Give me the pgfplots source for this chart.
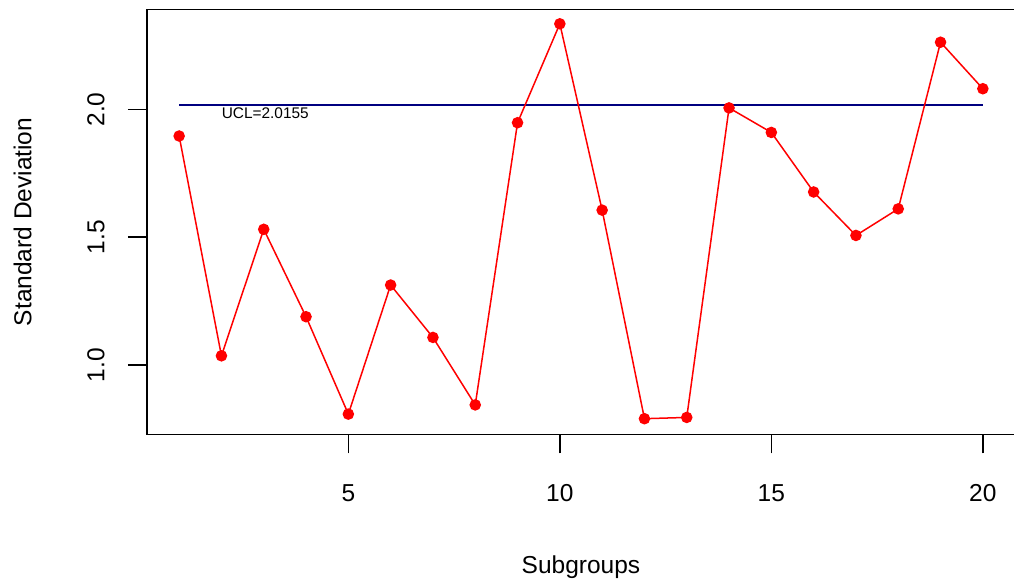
\documentclass[border=0pt]{standalone}
\usepackage{pgfplots}
\pgfplotsset{compat=1.18}
\usepackage{fontspec}
\setmainfont{Liberation Sans}
\definecolor{uclblue}{HTML}{000080}

\begin{document}
\begin{tikzpicture}
\begin{axis}[
  scale only axis,
  width=434pt, height=212.4pt,
  xmin=0.24, xmax=20.76,
  ymin=0.729, ymax=2.391,
  axis line style={black, line width=0.75pt},
  xtick={5,10,15,20}, xticklabels={5,10,15,20},
  ytick={1.0,1.5,2.0}, yticklabels={1.0,1.5,2.0},
  xtick pos=bottom, ytick pos=left,
  tick align=outside,
  major tick length=9.5pt,
  tick style={black, line width=0.75pt},
  /pgf/number format/assume math mode=true,
  font=\fontsize{12.25}{14}\selectfont,
  xticklabel style={anchor=center, yshift=-19.8pt},
  yticklabel style={xshift=-16pt, rotate=90, anchor=center},
  every axis x label/.style={at={(axis description cs:0.5,0)}, yshift=-66.5pt, anchor=center},
  every axis y label/.style={at={(axis description cs:0,0.5)}, xshift=-62.2pt, rotate=90, anchor=center},
  xlabel={Subgroups},
  ylabel={Standard Deviation},
  clip=false,
]
% upper control limit
\addplot[uclblue, line width=1pt] coordinates {(1,2.0155) (20,2.0155)};
\node[anchor=north west, inner sep=0pt, font=\fontsize{7.7}{9}\selectfont, yshift=-1pt]
  at (axis cs:2,2.0155) {UCL=2.0155};
% subgroup standard deviations
\addplot[red, line width=0.75pt, mark=*, mark size=2.5pt, mark options={fill=red, draw=red}]
  coordinates {
  (1,1.896) (2,1.036) (3,1.531) (4,1.189) (5,0.808)
  (6,1.313) (7,1.108) (8,0.844) (9,1.948) (10,2.335)
  (11,1.606) (12,0.790) (13,0.795) (14,2.006) (15,1.910)
  (16,1.677) (17,1.507) (18,1.611) (19,2.263) (20,2.081)
  };
\end{axis}
\pgfresetboundingbox
\useasboundingbox ([xshift=-73.5pt,yshift=-76.85pt]current axis.south west) rectangle ++(507pt,294pt);
\end{tikzpicture}
\end{document}
